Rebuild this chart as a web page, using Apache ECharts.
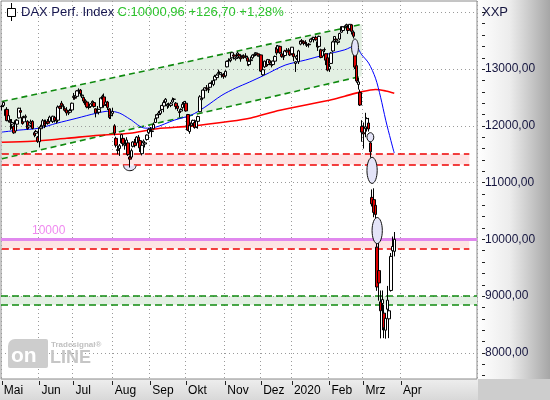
<!DOCTYPE html>
<html><head><meta charset="utf-8">
<script src="https://cdn.jsdelivr.net/npm/echarts@6/dist/echarts.min.js"></script>
<style>html,body{margin:0;padding:0;background:#fff}#c{width:550px;height:400px}</style>
</head><body><div id="c"></div>
<script>
// ---------- data (DAX Perf. Index, daily, May 2019 - Mar 2020) ----------
const OPENS = [
 12340,12360,12180,12290,12090,12080,12030,11990,11910,12030,12140,12270,12150,12070,12150,12080,11980,12050,12080,11880,11870,11800,
 11720,11950,12000,12080,12050,12080,12080,12130,12080,12150,12110,12100,12340,12400,12340,12300,12280,12230,12240,12280,
 12500,12500,12520,12620,12630,12530,12500,12440,12420,12330,12340,12400,12410,12300,12250,12240,12320,12470,12510,12380,12420,12300,12180,
 12220,12000,11780,11580,11600,11700,11780,11660,11650,11700,11450,11450,11640,11710,11700,11800,11740,11510,11700,11680,11760,11880,
 11940,11900,11950,12060,12140,12200,12220,12290,12350,12420,12350,12370,12360,12420,12470,12400,12350,12250,12260,12320,12380,
 12400,12200,11900,12000,12040,12060,11980,12080,12250,12460,12490,12630,12670,12640,12680,12760,12730,12810,12850,12920,12940,12900,12900,
 12880,13040,13150,13150,13200,13250,13180,13210,13260,13210,13200,13230,13230,13200,13080,13150,13200,13250,13270,13270,13220,
 13250,12900,13040,13130,13080,13150,13090,13080,13140,13380,13350,13400,13270,13220,13240,13330,13330,13320,
 13270,13270,13100,13190,13130,13440,13500,13480,13470,13420,13440,13480,13530,13520,13560,13480,13400,13340,13230,13340,13270,13200,
 13000,13100,13320,13490,13530,13470,13530,13650,13680,13740,13760,13740,13710,13780,13650,13300,13060,12730,12590,11990,
 11880,11950,11980,12050,11700,10740,10700,10600,9863,9450,8900,8870,8700,8400,8770,8600,9100,9800,9790
];
const CLOSES = [
 12345,12413,12286,12093,12180,12060,12060,11877,12093,12099,12310,12239,12041,12143,12169,11952,12011,12071,11954,11837,11902,11727,
 11971,11980,12090,12010,12045,12045,12155,12116,12169,12096,12086,12332,12309,12355,12340,12274,12228,12246,12271,12399,
 12521,12488,12616,12630,12568,12543,12437,12373,12332,12323,12387,12431,12342,12227,12260,12290,12490,12522,12362,12419,12325,12148,12189,
 12253,11872,11658,11568,11650,11845,11694,11680,11750,11493,11413,11563,11715,11652,11802,11747,11612,11658,11731,11701,11838,11939,
 11953,11911,12025,12126,12192,12226,12268,12360,12410,12469,12381,12372,12389,12457,12468,12342,12307,12234,12289,12381,12428,
 12263,11925,12014,12013,12097,11970,12094,12164,12512,12486,12630,12670,12654,12633,12748,12754,12798,12872,12895,12942,12939,12910,12867,
 12961,13136,13148,13180,13289,13228,13198,13283,13230,13180,13242,13207,13222,13141,13137,13164,13247,13263,13287,13245,13236,
 12965,12989,13140,13055,13167,13105,13071,13142,13222,13283,13407,13288,13222,13212,13319,13301,13337,13249,
 13386,13219,13127,13227,13321,13495,13483,13452,13457,13432,13429,13526,13549,13556,13516,13389,13577,13205,13324,13346,13158,12982,
 13045,13282,13479,13575,13514,13494,13627,13749,13745,13744,13784,13681,13789,13665,13579,13035,12790,12774,12367,11890,
 11857,11985,12128,11945,11542,10625,10475,10439,9161,9232,8742,8939,8442,8610,8929,8742,9701,9874.26,10000.96
];
const LOWS = [
 12270,12330,12160,12080,12060,11930,11950,11860,11900,11990,12130,12200,12020,12050,12110,11930,11950,12030,11940,11800,11820,11700,
 11620,11880,11960,11960,11980,12020,12060,12070,12050,12060,12040,12060,12280,12300,12280,12250,12180,12190,12220,12260,
 12460,12460,12500,12590,12520,12490,12400,12350,12310,12290,12320,12350,12320,12150,12220,12200,12300,12440,12320,12350,12280,12120,12120,
 12170,11830,11620,11500,11470,11680,11640,11580,11560,11470,11266,11420,11620,11620,11680,11690,11540,11480,11670,11620,11740,11850,
 11900,11800,11940,12050,12110,12180,12190,12280,12240,12400,12300,12320,12330,12400,12430,12290,12260,12150,12240,12300,12360,
 12250,11910,11860,11960,12010,11950,11960,11950,12240,12430,12470,12590,12610,12580,12660,12720,12700,12780,12820,12900,12900,12850,12830,
 12850,13030,13110,13120,13190,13170,13150,13180,13190,13130,13190,13180,13190,13060,13050,13120,13180,13220,13230,13220,13170,
 12950,12880,13020,13040,13070,13070,13030,13060,13120,13240,13330,13270,13200,13160,13230,13290,13300,13230,
 13250,13140,12950,13160,13090,13420,13460,13420,13430,13390,13380,13470,13510,13470,13500,13320,13380,13190,13220,13300,13070,12960,
 12950,13090,13300,13470,13470,13430,13510,13640,13660,13700,13740,13620,13700,13610,13540,13000,12760,12640,12350,11720,
 11600,11800,11900,11900,11440,10580,10390,10350,9094,8920,8256,8400,8260,8250,8700,8260,9080,9650,9700
];
const HIGHS = [
 12370,12430,12300,12330,12210,12120,12120,12010,12110,12120,12320,12320,12170,12180,12200,12100,12070,12110,12100,11910,11930,11820,
 11990,12020,12120,12110,12110,12120,12180,12150,12180,12170,12130,12360,12360,12440,12380,12330,12330,12280,12300,12410,
 12580,12540,12630,12660,12650,12580,12520,12470,12440,12390,12400,12450,12430,12310,12350,12300,12500,12550,12570,12440,12440,12310,12250,
 12320,12030,11810,11650,11680,11860,11800,11720,11800,11720,11480,11600,11730,11770,11820,11840,11770,11670,11760,11730,11850,11960,
 11980,11940,12060,12200,12210,12260,12290,12370,12450,12490,12400,12410,12420,12500,12490,12420,12380,12280,12310,12420,12440,
 12440,12210,12050,12060,12110,12110,12110,12180,12540,12500,12640,12680,12720,12700,12760,12800,12810,12900,12920,12990,12960,12930,12930,
 12980,13150,13190,13200,13290,13260,13220,13310,13270,13230,13250,13260,13280,13230,13150,13220,13260,13290,13300,13280,13260,
 13260,13020,13150,13160,13180,13170,13120,13150,13240,13420,13425,13410,13300,13240,13340,13370,13370,13340,
 13390,13320,13140,13250,13340,13500,13530,13500,13510,13470,13460,13540,13570,13570,13590,13500,13590,13360,13340,13380,13280,13280,
 13090,13300,13500,13580,13560,13510,13640,13760,13750,13770,13800,13760,13795,13790,13680,13320,13080,12850,12640,12100,
 12060,12230,12150,12140,11740,10880,10900,10650,9960,9990,9100,9100,8850,8700,9180,8900,9760,10050,10130
];
// moving averages: [trading-day index, value]
const MA_BLUE = [[0,11890],[10,11925],[22,11960],[32,12045],[44,12135],[55,12220],[63,12260],[69,12225],[75,12120],[84,11960],[90,11975],[101,12100],[111,12190],[119,12330],[129,12540],[137,12665],[145,12770],[154,12895],[166,13070],[178,13160],[189,13250],[201,13340],[207,13410],[211,13250],[215,13105],[219,12840],[222,12505],[225,12100],[228,11745],[230,11520]];
const MA_RED = [[0,11710],[18,11728],[38,11781],[57,11834],[75,11870],[91,11950],[111,11995],[134,12080],[146,12140],[163,12276],[192,12452],[201,12523],[210,12594],[219,12640],[225,12615],[230,12576]];
// trend channel: [startIdx, endIdx], upper/lower values at start and end
const CHANNEL_X = [0, 211];
const CHANNEL_UPPER = [12428, 13790];
const CHANNEL_LOWER = [11420, 12876];
// horizontal zones
const RED_ZONES = [[11320, 11500], [9840, 10000]];
const RED_ZONE_END = 274;
const GREEN_ZONE = [8850, 9000];
const LEVEL = 10000;
// gap markers: [idx, value, half-width (days), half-height (points)]
const GAP_MARKS = [[207,13380,2,150],[216,11800,2,80],[217,11216,3,230],[220,10155,3,230]];
const LOW_MARK = [75, 11300, 4, 90];
// axis
const Y_LABELS = [8000, 9000, 10000, 11000, 12000, 13000];
const Y_GRID = [8000, 9000, 10000, 11000, 12000, 13000, 14000];
const Y_TICKS = [7600,7800,8000,8200,8400,8600,8800,9000,9200,9400,9600,9800,10000,10200,10400,10600,10800,11000,11200,11400,11600,11800,12000,12200,12400,12600,12800,13000,13200,13400,13600,13800,14000];
const MONTH_NAMES = ['Jan','Feb','Mrz','Apr','Mai','Jun','Jul','Aug','Sep','Okt','Nov','Dez'];
const HOLIDAYS = ['2019-12-24','2019-12-25','2019-12-26','2019-12-31','2020-01-01','2020-04-10','2020-04-13','2020-05-01'];
const FIRST_DAY = '2019-05-02';
const CATEGORY_COUNT = 279;
const LABEL_UNTIL = '2020-04-30';

// ---------- build ----------
const FONT = 'Liberation Sans, Arial, sans-serif';
function tradingDays() {
  const out = [];
  const d = new Date(FIRST_DAY + 'T00:00:00Z');
  while (out.length < CATEGORY_COUNT) {
    const wd = d.getUTCDay();
    const s = d.toISOString().slice(0, 10);
    if (wd !== 0 && wd !== 6 && HOLIDAYS.indexOf(s) < 0) out.push(s);
    d.setUTCDate(d.getUTCDate() + 1);
  }
  return out;
}
const DATES = tradingDays();
const MONTH_START = DATES.map((s, i) => s <= LABEL_UNTIL && (i === 0 || s.slice(5, 7) !== DATES[i - 1].slice(5, 7)));
function monthLabel(s) { const m = +s.slice(5, 7); return m === 1 ? s.slice(0, 4) : MONTH_NAMES[m - 1]; }
const fmt2 = v => v.toFixed(2).replace('.', ',');

const candles = OPENS.map((o, i) => [o, CLOSES[i], LOWS[i], HIGHS[i]]);
const last = CLOSES[CLOSES.length - 1], prev = CLOSES[CLOSES.length - 2];
const chg = last - prev, pct = chg / prev * 100;
const titleInfo = 'C:' + fmt2(last) + ' ' + (chg >= 0 ? '+' : '') + fmt2(chg) + ' ' + (pct >= 0 ? '+' : '') + fmt2(pct) + '%';

const chart = echarts.init(document.getElementById('c'), null, { renderer: 'canvas' });
const dotted = { type: [1, 3], color: '#9a9a9a', width: 1 };

const option = {
  animation: false,
  backgroundColor: '#ffffff',
  grid: { left: 1, right: 73, top: 1, bottom: 21, show: true, backgroundColor: '#ffffff', borderColor: '#8a8a8a', borderWidth: 1 },
  xAxis: {
    type: 'category', data: DATES, boundaryGap: true, offset: 2,
    axisLine: { show: false },
    axisTick: { show: true, alignWithLabel: true, length: 4, interval: (i) => MONTH_START[i], lineStyle: { color: '#222' } },
    axisLabel: { interval: (i) => MONTH_START[i], formatter: (v) => monthLabel(v), align: 'left', margin: 4, padding: [0, 0, 0, 2], color: '#000', fontSize: 12, fontFamily: FONT },
    splitLine: { show: true, interval: (i) => MONTH_START[i], lineStyle: dotted }
  },
  yAxis: {
    type: 'value', position: 'right', min: 7540, max: 14200, offset: 5,
    axisLine: { show: false }, splitLine: { show: false },
    axisTick: { show: true, length: 3, customValues: Y_TICKS, lineStyle: { color: '#222' } },
    axisLabel: { customValues: Y_LABELS, formatter: (v) => fmt2(v), margin: 3, color: '#15153f', fontSize: 12, fontFamily: FONT }
  },
  series: [
    { // trend channel
      type: 'custom', z: 1, silent: true,
      data: [[DATES[CHANNEL_X[0]], CHANNEL_UPPER[0], CHANNEL_LOWER[0], CHANNEL_X[1], CHANNEL_UPPER[1], CHANNEL_LOWER[1]]],
      encode: { x: 0, y: 1 },
      renderItem: (params, api) => {
        const x0 = api.value(0), x1 = api.value(3);
        const u0 = api.coord([x0, api.value(1)]), l0 = api.coord([x0, api.value(2)]);
        const u1 = api.coord([x1, api.value(4)]), l1 = api.coord([x1, api.value(5)]);
        const ls = { stroke: '#0f8a0f', lineWidth: 1.6, lineDash: [6, 4] };
        return { type: 'group', children: [
          { type: 'polygon', shape: { points: [u0, u1, l1, l0] }, style: { fill: '#e3f0e3' } },
          { type: 'line', shape: { x1: u0[0], y1: u0[1], x2: u1[0], y2: u1[1] }, style: ls },
          { type: 'line', shape: { x1: l0[0], y1: l0[1], x2: l1[0], y2: l1[1] }, style: ls }
        ] };
      }
    },
    { // zones + grid lines
      type: 'line', z: 1, data: [], silent: true,
      markArea: { z: 0.5, silent: true, data: [
        [{ xAxis: DATES[0], yAxis: RED_ZONES[0][0], itemStyle: { color: '#fde4e4' } }, { xAxis: DATES[RED_ZONE_END], yAxis: RED_ZONES[0][1] }],
        [{ xAxis: DATES[0], yAxis: RED_ZONES[1][0], itemStyle: { color: '#fde4e4' } }, { xAxis: DATES[RED_ZONE_END], yAxis: RED_ZONES[1][1] }],
        [{ yAxis: GREEN_ZONE[0], itemStyle: { color: '#e3f0e3' } }, { yAxis: GREEN_ZONE[1] }]
      ] },
      markLine: { z: 1.5, silent: true, symbol: ['none', 'none'], label: { show: false },
        data: Y_GRID.map(v => ({ yAxis: v, lineStyle: dotted }))
          .concat(RED_ZONES.flat().map(v => [{ xAxis: DATES[0], yAxis: v, lineStyle: { type: [7, 4], color: '#ee0000', width: 1.6 } }, { xAxis: DATES[RED_ZONE_END], yAxis: v }]))
          .concat(GREEN_ZONE.map(v => ({ yAxis: v, lineStyle: { type: [7, 4], color: '#0f8a0f', width: 1.6 } })))
      }
    },
    { // level line 10000
      type: 'line', z: 3, data: [], silent: true,
      markLine: { z: 3, silent: true, symbol: ['none', 'none'],
        data: [{ yAxis: LEVEL, lineStyle: { color: '#e088ee', width: 3, type: 'solid' },
          label: { show: true, formatter: String(LEVEL), position: 'insideStartTop', distance: 3, padding: [0, 0, 0, 28], color: '#f08af0', fontSize: 12, fontFamily: FONT } }]
      }
    },
    { type: 'line', z: 3, name: 'ma1', data: MA_RED.map(p => [DATES[p[0]], p[1]]), showSymbol: false, symbol: 'none', smooth: 0.3, silent: true, lineStyle: { color: '#ff0000', width: 1.6 } },
    { type: 'line', z: 3, name: 'ma2', data: MA_BLUE.map(p => [DATES[p[0]], p[1]]), showSymbol: false, symbol: 'none', smooth: 0.3, silent: true, lineStyle: { color: '#0000ff', width: 1 } },
    {
      type: 'candlestick', z: 4, data: candles, barWidth: 3, silent: true,
      itemStyle: { color: '#ffffff', color0: '#e00000', borderColor: '#000000', borderColor0: '#000000', borderWidth: 1 }
    },
    { // gap markers
      type: 'custom', z: 6, silent: true,
      data: GAP_MARKS.map(g => [DATES[g[0]], g[1], g[2], g[3]]),
      encode: { x: 0, y: 1 },
      renderItem: (params, api) => {
        const c = api.coord([api.value(0), api.value(1)]);
        const e = api.coord([api.value(0) + api.value(2), api.value(1) + api.value(3)]);
        const rx = Math.abs(e[0] - c[0]), ry = Math.abs(c[1] - e[1]);
        return { type: 'ellipse', shape: { cx: c[0], cy: c[1], rx: rx, ry: ry }, style: { fill: '#e4e4f8', stroke: '#111', lineWidth: 1 } };
      }
    },
    { // low marker
      type: 'custom', z: 3.5, silent: true,
      data: [[DATES[LOW_MARK[0]], LOW_MARK[1], LOW_MARK[2], LOW_MARK[3]]],
      encode: { x: 0, y: 1 },
      renderItem: (params, api) => {
        const c = api.coord([api.value(0), api.value(1)]);
        const e = api.coord([api.value(0) + api.value(2), api.value(1) - api.value(3)]);
        const rx = Math.abs(e[0] - c[0]) * 0.9, ry = Math.abs(e[1] - c[1]);
        const pts = [];
        for (let k = 0; k <= 16; k++) { const a = Math.PI * k / 16; pts.push([c[0] + rx * Math.cos(a), c[1] + ry * Math.sin(a)]); }
        return { type: 'polyline', shape: { points: pts }, style: { fill: '#e4e4f8', stroke: '#111', lineWidth: 1 } };
      }
    }
  ],
  graphic: [
    { type: 'rect', z: -5, silent: true, shape: { x: 477, y: 0, width: 73, height: 379 },
      style: { fill: new echarts.graphic.LinearGradient(0, 0, 1, 0, [{ offset: 0, color: '#ffffff' }, { offset: 0.45, color: '#ececec' }, { offset: 1, color: '#a6a6a6' }]) } },
    { type: 'rect', z: -5, silent: true, shape: { x: 0, y: 379, width: 478, height: 21 },
      style: { fill: new echarts.graphic.LinearGradient(0, 0, 0, 1, [{ offset: 0, color: '#eeeeee' }, { offset: 1, color: '#d8d8d8' }]) } },
    { type: 'rect', z: -5, silent: true, shape: { x: 478, y: 379, width: 72, height: 21 }, style: { fill: '#cdcdcd' } },
    { type: 'text', z: 10, silent: true, x: 482, y: 12, style: { text: 'XXP', fill: '#15153f', font: '13px ' + FONT, textVerticalAlign: 'middle' } },
    // title
    { type: 'line', z: 10, silent: true, shape: { x1: 11.5, y1: 3, x2: 11.5, y2: 21 }, style: { stroke: '#000', lineWidth: 1 } },
    { type: 'rect', z: 11, silent: true, shape: { x: 7.5, y: 8.5, width: 8, height: 8 }, style: { fill: '#fff', stroke: '#000', lineWidth: 1 } },
    { type: 'text', z: 10, silent: true, x: 21, y: 12,
      style: { text: '{a|DAX Perf. Index} {b|' + titleInfo + '}', textVerticalAlign: 'middle',
        rich: { a: { fill: '#161650', font: '13px ' + FONT }, b: { fill: '#2ec42e', font: '13px ' + FONT } } } },
    // watermark
    { type: 'rect', z: 2, silent: true, shape: { x: 8, y: 339, width: 40, height: 29, r: [7, 2, 2, 2] }, style: { fill: '#cdcdcd' } },
    { type: 'text', z: 2, silent: true, x: 11, y: 367, style: { text: 'on', fill: '#ffffff', font: 'bold 21px ' + FONT, textVerticalAlign: 'bottom' } },
    { type: 'text', z: 2, silent: true, x: 50, y: 367, style: { text: 'LINE', fill: '#c6c6c6', font: 'bold 18px ' + FONT, textVerticalAlign: 'bottom' } },
    { type: 'text', z: 2, silent: true, x: 51, y: 345, style: { text: 'Tradesignal®', fill: '#c0c0c0', font: 'bold 8px ' + FONT, textVerticalAlign: 'middle' } }
  ]
};
chart.setOption(option);
</script></body></html>
